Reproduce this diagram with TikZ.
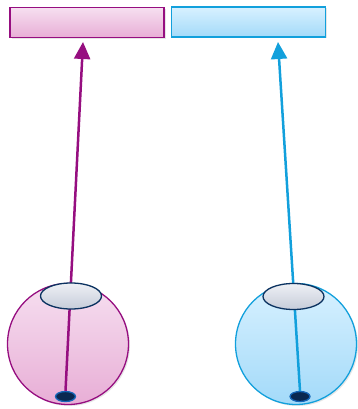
\documentclass[tikz,border=0pt]{standalone}
\usetikzlibrary{arrows.meta,shapes.geometric,shadows}

\definecolor{plumline}{HTML}{960E80}
\definecolor{plumtop}{HTML}{F6DFF0}
\definecolor{plumbot}{HTML}{E8AED6}
\definecolor{skyline}{HTML}{12A0DC}
\definecolor{skytop}{HTML}{D8F1FF}
\definecolor{skybot}{HTML}{A3DAF9}
\definecolor{lidline}{HTML}{0B3260}
\definecolor{lidtop}{HTML}{EEF0F5}
\definecolor{lidbot}{HTML}{C6CCD9}
\definecolor{knob}{HTML}{0A2850}
\definecolor{knobrim}{HTML}{1566B8}

\tikzset{
  bar/.style={rectangle, draw=#1line, line width=1.3pt, inner sep=0pt,
    minimum width=154pt, minimum height=30pt,
    top color=#1top, bottom color=#1bot,
    drop shadow={opacity=0.2, shadow xshift=1.5pt, shadow yshift=-1.5pt}},
  ball/.style={circle, draw=#1line, line width=1.3pt, inner sep=0pt,
    minimum size=121pt, top color=#1top, bottom color=#1bot,
    drop shadow={opacity=0.2, shadow xshift=1.5pt, shadow yshift=-1.5pt}},
  lid/.style={ellipse, draw=lidline, line width=1.3pt, inner sep=0pt,
    minimum width=61pt, minimum height=26pt,
    top color=lidtop, bottom color=lidbot},
  knobby/.style={ellipse, draw=knobrim, fill=knob, line width=1.3pt,
    inner sep=0pt, minimum width=20pt, minimum height=10pt},
  rod/.style={line width=2.5pt, draw=#1line,
    -{Triangle[length=17pt,width=16pt]}},
}

\begin{document}
\begin{tikzpicture}[x=1pt,y=-1pt]
    \useasboundingbox (0,0) rectangle (357,409);

    % top bars
    \node[bar=plum] (lbar) at (87,22.5) {};
    \node[bar=sky]  (rbar) at (248.5,22) {};

    % balls
    \node[ball=plum] (lball) at (68,344) {};
    \node[ball=sky]  (rball) at (296,344) {};

    % knobs at the bottom of the balls
    \node[knobby] (lknob) at (65.5,396.5) {};
    \node[knobby] (rknob) at (300,396.5) {};

    % arrow tips just under the bars
    \coordinate (ltip) at (83,42);
    \coordinate (rtip) at (278,42);

    \draw[rod=plum] (lknob.north) -- (ltip);
    \draw[rod=sky]  (rknob.north) -- (rtip);

    % lids sitting on the rods
    \node[lid] (llid) at (71,296) {};
    \node[lid] (rlid) at (293.5,296.5) {};
\end{tikzpicture}
\end{document}
